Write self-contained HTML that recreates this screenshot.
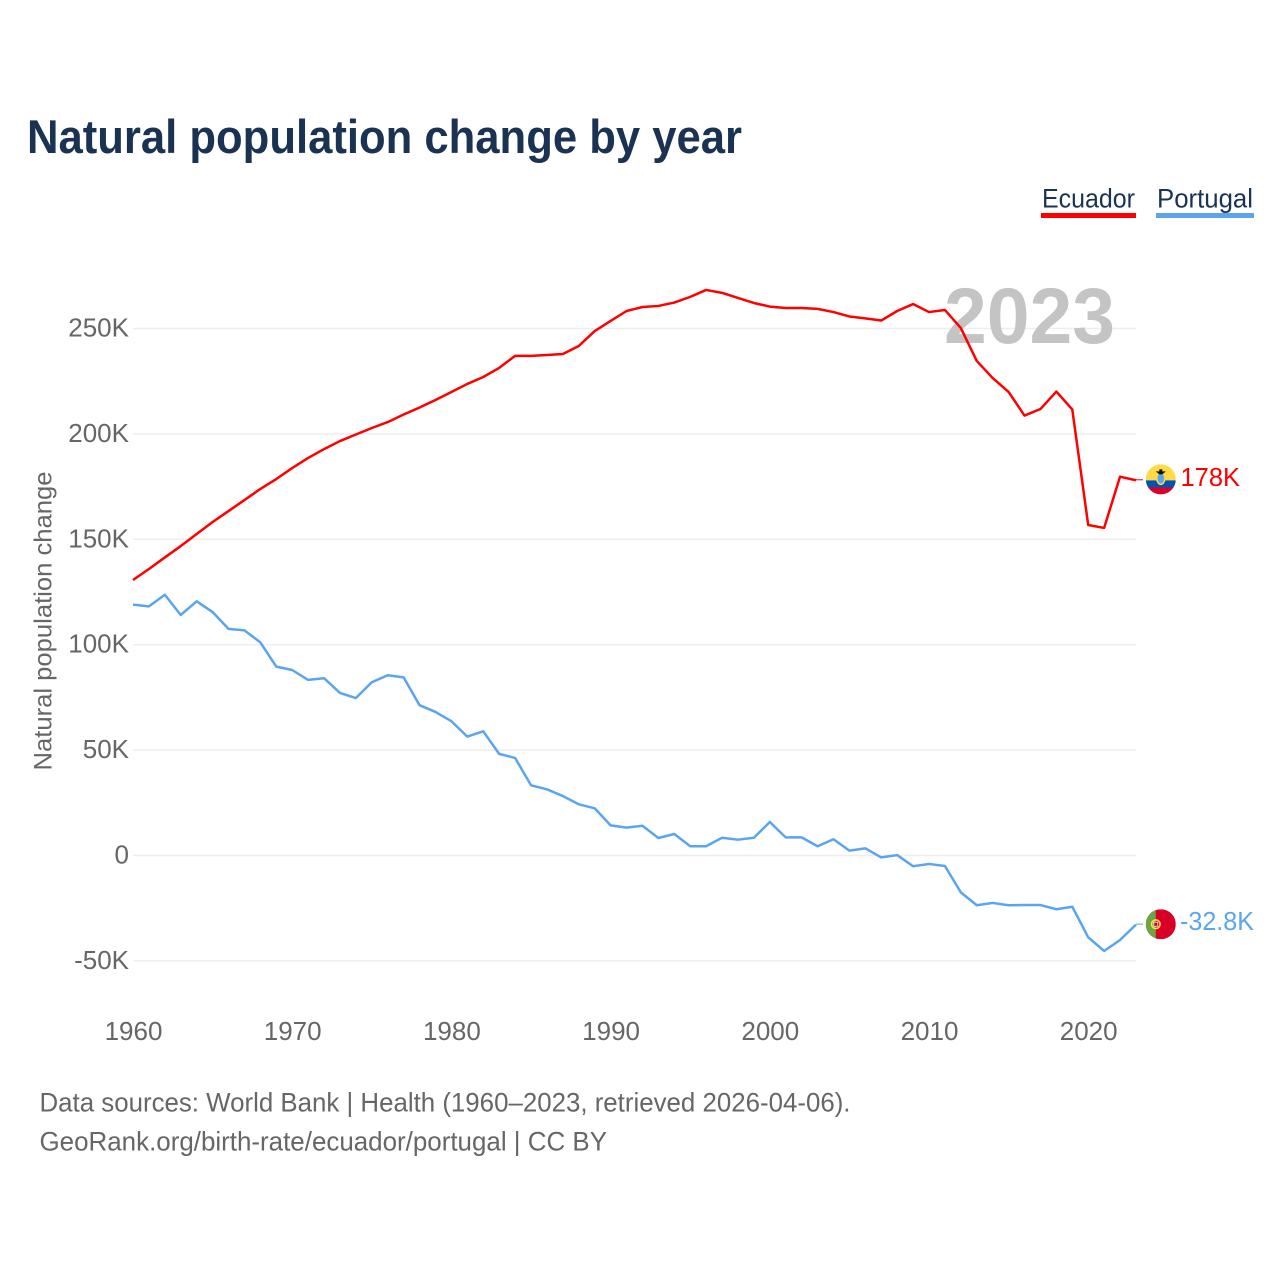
<!DOCTYPE html>
<html lang="en">
<head>
<meta charset="utf-8">
<title>Natural population change by year</title>
<style>
html,body{margin:0;padding:0;background:#fff;width:1280px;height:1280px;overflow:hidden}
svg{display:block;font-family:"Liberation Sans",sans-serif}
</style>
</head>
<body>
<svg id="chart" width="1280" height="1280" viewBox="0 0 1280 1280" xmlns="http://www.w3.org/2000/svg">
  <defs>
    <clipPath id="flag-clip"><circle cx="0" cy="0" r="15"></circle></clipPath>
  </defs>
  <text x="27" y="153" font-size="47" font-weight="700" fill="#1a3353" textLength="715" lengthAdjust="spacingAndGlyphs">Natural population change by year</text>

  <g>
    <g>
      <text x="1042" y="207.5" font-size="27" fill="#1a3353" textLength="93" lengthAdjust="spacingAndGlyphs">Ecuador</text>
      <rect x="1041" y="213" width="95" height="5" fill="#ff0000"></rect>
    </g>
    <g>
      <text x="1157" y="207.5" font-size="27" fill="#1a3353" textLength="96" lengthAdjust="spacingAndGlyphs">Portugal</text>
      <rect x="1156" y="213" width="98" height="5" fill="#5ba4ee"></rect>
    </g>
  </g>

  <g id="grid"></g>
  <text x="1115" y="343" font-size="79" font-weight="700" fill="#c4c4c4" text-anchor="end" textLength="171" lengthAdjust="spacingAndGlyphs">2023</text>
  <g id="y-ticks"></g>
  <g id="x-ticks"></g>
  <text transform="translate(51.5 621) rotate(-90)" text-anchor="middle" font-size="25" fill="#666666" textLength="299" lengthAdjust="spacingAndGlyphs">Natural population change</text>
  <g id="series"></g>

  <g id="end-ecuador">
    <g clip-path="url(#flag-clip)" transform="translate(1160.8 -0.9)">
      <rect x="-15" y="-15" width="30" height="16" fill="#ffda44"></rect>
      <rect x="-15" y="1" width="30" height="8" fill="#0052b4"></rect>
      <rect x="-15" y="8" width="30" height="7" fill="#d80027"></rect>
      <ellipse cx="0" cy="-1" rx="4" ry="6" fill="#5ba4ee" stroke="#ffda44" stroke-width="1.5"></ellipse>
      <path d="M-5 -8 L5 -8 L1.5 -5 L-1.5 -5 Z M-1.5 -10 L1.5 -10 L1.5 -7 L-1.5 -7 Z" fill="#111111"></path>
    </g>
  </g>
  <g id="end-portugal">
    <g clip-path="url(#flag-clip)" transform="translate(1160.8 -0.4)">
      <rect x="-15" y="-15" width="30" height="30" fill="#d80027"></rect>
      <rect x="-15" y="-15" width="10" height="30" fill="#6da544"></rect>
      <circle cx="-5" cy="0" r="4.3" fill="none" stroke="#ffda44" stroke-width="1.6"></circle>
      <rect x="-7" y="-2" width="4" height="4" fill="#d80027" stroke="#fff" stroke-width="0.7"></rect>
    </g>
  </g>

  <text x="39.5" y="1111.5" font-size="27" fill="#666666" textLength="811" lengthAdjust="spacingAndGlyphs">Data sources: World Bank | Health (1960–2023, retrieved 2026-04-06).</text>
  <text x="39.5" y="1150.5" font-size="27" fill="#666666" textLength="567.5" lengthAdjust="spacingAndGlyphs">GeoRank.org/birth-rate/ecuador/portugal | CC BY</text>
</svg>
<script>
const startYear = 1960;
const ecuadorValues = [130.7,135.9,141.4,146.8,152.5,158.2,163.4,168.6,173.9,178.6,183.8,188.6,192.8,196.6,199.7,202.8,205.6,209.2,212.5,216.1,219.9,223.7,227,231.3,237,237,237.4,237.9,241.7,248.8,253.6,258.3,260.2,260.7,262.3,265,268.3,266.9,264.5,262.1,260.4,259.7,259.7,259.3,257.8,255.7,254.8,253.8,258.3,261.6,257.8,258.8,250.2,234.6,226.5,219.9,208.7,211.8,220.1,211.6,156.8,155.4,179.7,178];
const portugalValues = [119,118.2,123.7,114.1,120.6,115.5,107.5,106.8,101.1,89.6,88,83.3,84.1,77.1,74.7,82.2,85.5,84.5,71.3,68.1,63.7,56.4,58.9,48.2,46.3,33.3,31.4,28.2,24.3,22.4,14.3,13.2,14.1,8.3,10.2,4.4,4.4,8.4,7.5,8.4,15.9,8.6,8.6,4.4,7.7,2.3,3.4,-0.9,0.2,-5.1,-4,-5,-17.5,-23.6,-22.5,-23.6,-23.5,-23.5,-25.5,-24.3,-38.8,-45.3,-40.1,-32.8];
const yTickValues = [250,200,150,100,50,0,-50];
const yTickLabels = ["250K","200K","150K","100K","50K","0","-50K"];
const xTickYears = [1960,1970,1980,1990,2000,2010,2020];
const ecuadorEndLabel = "178K";
const portugalEndLabel = "-32.8K";

const NS = "http://www.w3.org/2000/svg";
function xScale(year){ return 133 + (year - 1960) * 15.92; }
function yScale(value){ return 855.5 - value * 2.108; }
function make(tag, parent, attrs, text){
  const el = document.createElementNS(NS, tag);
  for (const k in attrs) el.setAttribute(k, attrs[k]);
  if (text !== undefined) el.textContent = text;
  parent.appendChild(el);
  return el;
}
const gridGroup = document.getElementById("grid");
const yTickGroup = document.getElementById("y-ticks");
const xTickGroup = document.getElementById("x-ticks");
const seriesGroup = document.getElementById("series");

yTickValues.forEach(function(v, i){
  const line = make("line", gridGroup, {x1:xScale(1960), x2:xScale(startYear + ecuadorValues.length - 1), y1:yScale(v), y2:yScale(v), stroke:"#eeeeee", "stroke-width":1.5});
  
  
  const label = make("text", yTickGroup, {x:129, y:yScale(v) + 8, "text-anchor":"end", "font-size":26, fill:"#666666"}, yTickLabels[i]);
  
  
});
xTickYears.forEach(function(year){
  const label = make("text", xTickGroup, {x:xScale(year) + 0.5, y:1040, "text-anchor":"middle", "font-size":26, fill:"#666666"}, String(year));
  
  
});
function pathFor(values){
  return values.map(function(v, i){
    return (i ? "L" : "M") + xScale(startYear + i).toFixed(2) + " " + yScale(v).toFixed(2);
  }).join(" ");
}
const lineEcuador = make("path", seriesGroup, {d:pathFor(ecuadorValues), fill:"none", stroke:"#ff0000", "stroke-width":2.5, "stroke-linejoin":"round"});


const linePortugal = make("path", seriesGroup, {d:pathFor(portugalValues), fill:"none", stroke:"#5ba4ee", "stroke-width":2.5, "stroke-linejoin":"round"});



function placeEnd(groupId, values, color, labelText, labelX, labelWidth){
  const last = values[values.length - 1];
  const y = yScale(last);
  const group = document.getElementById(groupId);
  group.setAttribute("transform", "translate(0 " + y.toFixed(2) + ")");
  const connector = make("line", group, {x1:xScale(startYear + values.length - 1), x2:1143, y1:-0.5, y2:-0.5, stroke:color, "stroke-width":1});
  
  
  const label = make("text", group, {x:labelX, y:5.5, "font-size":26, fill:color, textLength:labelWidth, lengthAdjust:"spacingAndGlyphs"}, labelText);
  
  
}
placeEnd("end-ecuador", ecuadorValues, "#ff0000", ecuadorEndLabel, 1180.5, 59.5);
placeEnd("end-portugal", portugalValues, "#5ba4ee", portugalEndLabel, 1180, 74);
</script>
</body>
</html>
